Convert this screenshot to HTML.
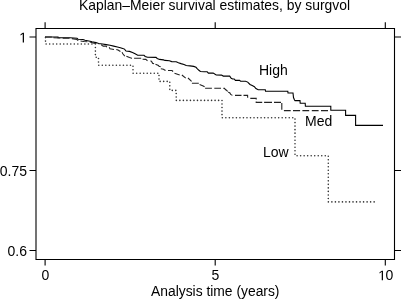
<!DOCTYPE html>
<html><head><meta charset="utf-8"><style>
html,body{margin:0;padding:0;background:#fff;}
body{width:401px;height:299px;overflow:hidden;position:relative;}
svg{position:absolute;left:0;top:0;will-change:transform;}
text{font-family:"Liberation Sans",sans-serif;font-size:14px;fill:#000;}
</style></head><body>
<svg width="401" height="299" viewBox="0 0 401 299">
<rect x="0" y="0" width="401" height="299" fill="#fff"/>
<text x="214.55" y="9.7" text-anchor="middle" style="font-size:13.9px">Kaplan–Meier survival estimates, by surgvol</text>
<g stroke="#000" fill="none" stroke-width="1.1">
<path d="M36,28.5 H394.5 V259.5 H36 Z"/>
<path d="M45.1,22.2 V28.5 M215.2,22.2 V28.5 M385.3,22.2 V28.5"/>
<path d="M45.1,259.5 V265.6 M215.2,259.5 V265.6 M385.3,259.5 V265.6"/>
<path d="M29.5,37 H36 M29.5,170.5 H36 M29.5,250.5 H36"/>
<path d="M394.5,37 H401 M394.5,170.5 H401 M394.5,250.5 H401"/>
</g>
<g fill="none" stroke="#000" stroke-width="1.1" stroke-linejoin="miter">
<polyline points="45,37 58,37 58,37.60 70,37.80 77,38.20 78,39.20 83,39.50 85,40.30 90,41.20 92,41.80 96,42.60 98.70,43.50 102.50,44 106.20,44.60 110,45.30 113.70,46.10 117.40,47 120.40,47.70 122.70,48.50 124.50,49.10 126,51 129.50,51.40 132.50,52.60 135.10,53.70 137.70,55.20 144,55.30 145.20,56.40 147.60,57.30 156,57.40 157.20,58.50 159.60,59.40 163.50,59.90 165,60.40 169.40,60.80 171.70,61.60 176.20,61.70 178.40,62.80 181,63.60 184,64.40 186.20,65.50 190,65.90 193.70,66.40 196,67.30 197.40,68.80 198.90,70.30 200.40,71.50 204.20,71.70 207.20,71.80 208.40,73.10 213.20,73.10 216.20,75 221.50,75.10 223.30,76.10 229.70,76.10 231.20,78.30 232.70,79 234.20,79 235.40,80.40 239.50,80.40 240.60,81.30 245.50,81.30 247.70,82.10 250,84.50 252.20,85.60 254.40,86.70 255.90,88.60 258.20,89.70 265.30,89.70 265.50,91.30 287.80,91.30 288,93 293,93 293.50,97.50 294.50,100 295,100.60 300,100.60 300.20,103.20 305.20,103.20 305.40,106.30 330.80,106.30 330.80,110.20 345.60,110.20 345.60,115.40 355.60,115.40 355.60,125.40 383,125.40"/>
<polyline points="45,37 53,37 53,37.80 70,38.30 77,39.50 78.40,40.90 82,41.20 84,41.50 90,42 94,43.20 98,43.80 99.32,43.98" stroke-dasharray="6.85 2.4" stroke="#222"/>
<path d="M101.70,44.30 L101.70,45.20 L103.20,46.10 L106.20,46.10 L106.80,47.20 M109.20,47.30 L110.00,48.80 L114.00,49.50 M116.30,49.40 L118.00,50.00 L120.40,51.50 M122.00,52.30 L123.00,54.00 L124.80,56.20 M126.40,56.30 L129.50,57.60 L131.70,58.30 L132.00,58.30 M134.10,58.30 L141.20,58.30 M142.60,59.30 L145.80,59.40 L147.50,60.70 M150.60,60.60 L152.20,62.40 L152.50,63.30 L154.10,63.80 M155.50,64.30 L158.40,65.40 L159.00,66.30 L160.60,66.60 M160.82,68.70 L163.50,69.20 L165.30,70.40 L165.50,70.40 M168.00,70.44 L172.00,70.50 L173.10,71.50 M174.50,73.20 L179.70,75.10 M181.90,75.00 L185.70,78.10 M188.00,78.00 L191.60,81.30 M191.90,83.20 L198.80,83.20 M199.60,84.60 L203.20,86.00 L204.60,86.80 M205.10,88.30 L211.90,88.30 M214.30,88.30 L221.00,88.30 M223.40,88.34 L224.50,88.40 L225.40,89.60 L226.80,90.40 L227.60,91.50 M228.28,91.98 L228.60,92.20 L229.90,93.00 L230.70,94.40 L232.40,95.40 M235.00,95.40 L241.50,95.40 M243.50,95.40 L247.60,95.40 L247.68,97.70 M250.30,98.40 L256.20,98.40 L256.20,99.40 M256.20,101.40 L256.20,102.40 L262.20,102.40 M264.10,102.40 L272.00,102.40 M274.00,102.40 L281.00,102.40 M281.80,103.10 L281.80,109.80 M283.90,110.60 L290.70,110.60 M293.00,110.60 L300.10,110.60 M302.40,110.60 L309.20,110.60 M311.80,110.60 L318.60,110.60 M321.00,110.60 L328.00,110.60" stroke="#222"/>
<polyline points="45.50,37 45.50,44 95.40,44 95.40,57.30 98.50,57.30 98.50,65.30 133,65.30 133,73.20 159,73.20 159,81.40 169.80,81.40 169.80,90.40 176.20,90.40 176.20,100.40 222,100.40 222,117.80 295,117.80 295,155.70 328.30,155.70 328.30,201.90 377,201.90" stroke-dasharray="0.001 3.52" stroke-dashoffset="-0.6" stroke-linecap="round" stroke-width="1.6" stroke="#333"/>
</g>
<path d="M22.74,42.40 L22.74,33.94 L20.56,35.50 L20.56,34.33 L22.84,32.77 L23.97,32.77 L23.97,42.40 Z" fill="#000"/>
<text x="27.0" y="175.9" text-anchor="end">0.75</text>
<text x="27.0" y="255.9" text-anchor="end">0.6</text>
<text x="45.3" y="280.3" text-anchor="middle">0</text>
<text x="215.3" y="280.3" text-anchor="middle">5</text>
<path d="M381.74,280.30 L381.74,271.84 L379.56,273.40 L379.56,272.23 L381.84,270.67 L382.97,270.67 L382.97,280.30 Z" fill="#000"/>
<text x="385.5" y="280.3">0</text>
<text x="215.25" y="296.3" text-anchor="middle" style="font-size:13.85px">Analysis time (years)</text>
<text x="259" y="75.0">High</text>
<text x="305" y="126.1">Med</text>
<text x="262.9" y="156.9">Low</text>
</svg>
</body></html>
